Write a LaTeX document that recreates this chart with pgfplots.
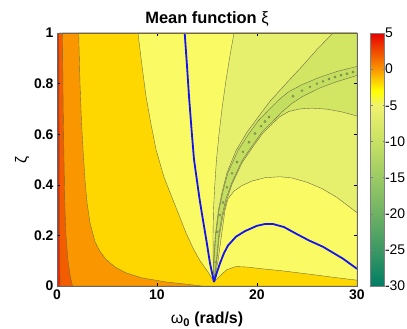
\documentclass[border=0pt]{standalone}
\usepackage{fontspec}
\setmainfont{Liberation Sans}
\usepackage{pgfplots}
\pgfplotsset{compat=1.18}

\definecolor{cDR}{RGB}{228,40,10}
\definecolor{cRO}{RGB}{244,92,0}
\definecolor{cOR}{RGB}{250,150,0}
\definecolor{cGD}{RGB}{255,215,0}
\definecolor{cPY}{RGB}{250,250,100}
\definecolor{cLG}{RGB}{230,240,108}
\definecolor{cGR}{RGB}{210,230,100}
\definecolor{cBD}{RGB}{196,222,96}
\definecolor{cOV}{RGB}{175,205,95}
\definecolor{cLN}{RGB}{110,110,70}
\definecolor{cBL}{RGB}{20,20,240}

\begin{document}
\begin{tikzpicture}
\path[use as bounding box] (-57bp,-43bp) rectangle (350bp,286bp);
\begin{axis}[
  at={(0,0)}, anchor=south west,
  scale only axis, width=300bp, height=253bp,
  xmin=0, xmax=30, ymin=0, ymax=1,
  xtick={0,10,20,30}, ytick={0,0.2,0.4,0.6,0.8,1},
  /pgf/number format/assume math mode=true,
  ticklabel style={font=\fontsize{14}{16}\selectfont\bfseries},
  tick style={black, line width=0.4bp}, major tick length=3bp,
  axis line style={black!60, line width=0.4bp},
  axis on top,
  title={Mean function {\mdseries ξ}},
  title style={font=\fontsize{16.5}{19}\selectfont\bfseries, yshift=-3bp},
  xlabel={{\mdseries ω}\textsubscript{0} (rad/s)},
  xlabel style={font=\fontsize{16}{18}\selectfont\bfseries, yshift=-6bp},
  ylabel={ζ},
  ylabel style={font=\fontsize{16}{18}\selectfont, yshift=-2bp},
  colormap={mymap}{rgb255(0bp)=(0,125,100) rgb255(5bp)=(60,152,100) rgb255(10bp)=(110,178,100) rgb255(15bp)=(155,202,100) rgb255(20bp)=(200,225,100) rgb255(25bp)=(240,242,110) rgb255(27bp)=(255,255,0) rgb255(30bp)=(250,150,0) rgb255(35bp)=(230,0,0)},
  colorbar, point meta min=-30, point meta max=5,
  colorbar style={
    at={(parent axis.north east)}, anchor=north west, xshift=5bp,
    scale only axis, width=14bp, height=253bp,
    ytick={-30,-25,-20,-15,-10,-5,0,5},
    /pgf/number format/assume math mode=true,
    yticklabel style={font=\fontsize{14}{16}\selectfont, xshift=-3bp},
    axis line style={black!50, line width=0.4bp},
    tick style={black!50}, major tick length=2bp,
  },
]
% background: deep red
\addplot[fill=cDR, draw=none] coordinates {(0,0)(30,0)(30,1)(0,1)} -- cycle;
% red-orange
\addplot[fill=cRO, draw=cLN, line width=0.4bp] coordinates {(0.2,1)(0.22,0.7)(0.25,0.4)(0.27,0.2)(0.3,0.05)(0.32,0)(30,0)(30,1)} -- cycle;
% orange
\addplot[fill=cOR, draw=cLN, line width=0.4bp] coordinates {(0.54,1)(0.62,0.7)(0.7,0.5)(0.77,0.34)(0.9,0.2)(1.1,0.1)(1.3,0.045)(1.55,0)(30,0)(30,1)} -- cycle;
% gold
\addplot[fill=cGD, draw=cLN, line width=0.4bp] coordinates {(2.17,1)(2.3,0.8)(2.45,0.65)(2.6,0.54)(2.8,0.42)(3.0,0.33)(3.3,0.25)(3.8,0.175)(4.3,0.137)(4.9,0.105)(5.8,0.075)(6.9,0.052)(8.5,0.032)(10.9,0.016)(13,0.007)(14.5,0)(30,0)(30,1)} -- cycle;
% pale yellow
\addplot[fill=cPY, draw=cLN, line width=0.4bp] coordinates {(8.1,1)(8.5,0.87)(8.9,0.75)(9.4,0.64)(9.9,0.54)(10.7,0.43)(11.6,0.34)(12.3,0.27)(12.9,0.21)(13.6,0.15)(14.3,0.10)(15.1,0.055)(15.7,0.016)(16.3,0.04)(17.0,0.065)(17.9,0.077)(19.0,0.075)(20.5,0.068)(22.3,0.061)(25,0.048)(27.5,0.035)(30,0.023)(30,1)} -- cycle;
% light yellow-green
\addplot[fill=cLG, draw=cLN, line width=0.4bp] coordinates {(17.7,1)(17.25,0.9)(16.85,0.8)(16.5,0.7)(16.2,0.6)(15.95,0.5)(15.78,0.4)(15.65,0.3)(15.6,0.2)(15.62,0.1)(15.7,0.016)(16.1,0.1)(16.45,0.2)(16.8,0.3)(17.1,0.345)(17.7,0.375)(18.5,0.397)(19.5,0.415)(20.8,0.428)(22.3,0.432)(23.5,0.427)(25,0.41)(26.5,0.385)(28,0.35)(30,0.29)(30,1)} -- cycle;
% greener
\addplot[fill=cGR, draw=cLN, line width=0.4bp] coordinates {(27.6,1)(26,0.935)(24.5,0.868)(22.9,0.80)(21.3,0.73)(20.2,0.672)(19.0,0.608)(17.9,0.535)(17.0,0.448)(16.53,0.375)(16.14,0.3)(15.83,0.2)(15.66,0.1)(15.7,0.016)(15.98,0.1)(16.21,0.19)(16.55,0.27)(16.95,0.337)(17.5,0.402)(18.5,0.487)(19.5,0.545)(20.5,0.6)(21.5,0.64)(22.3,0.67)(23.2,0.69)(24.3,0.70)(25.5,0.703)(27,0.699)(28.5,0.688)(30,0.672)(30,1)} -- cycle;
% band
\addplot[fill=cBD, draw=cLN, line width=0.4bp] coordinates {(15.7,0.016)(15.7,0.1)(15.88,0.2)(16.2,0.3)(16.6,0.375)(17.1,0.448)(18.1,0.535)(19.1,0.597)(20.1,0.652)(21.1,0.693)(22.1,0.733)(23.1,0.766)(24.4,0.794)(26.2,0.824)(28,0.848)(30,0.868)(30,0.832)(28,0.808)(26.3,0.783)(24.6,0.75)(23.5,0.722)(22.5,0.688)(21.5,0.648)(20.5,0.608)(19.5,0.553)(18.5,0.495)(17.5,0.41)(16.9,0.345)(16.5,0.278)(16.16,0.195)(15.94,0.1)} -- cycle;
% small islands inside the band
\addplot[only marks, mark=*, mark size=1.1bp, mark options={fill=cOV, draw=cLN, line width=0.3bp}] coordinates {(15.84,0.095)(16.04,0.214)(16.3,0.28)(16.6,0.33)(17.0,0.39)(17.5,0.445)(18.0,0.49)(18.6,0.53)(19.2,0.568)(19.8,0.603)(20.4,0.632)(20.8,0.65)(21.2,0.668)(23.6,0.75)(24.5,0.772)(25.3,0.787)(26.0,0.80)(26.6,0.809)(27.2,0.818)(27.8,0.826)(28.4,0.833)(29.0,0.839)(29.6,0.846)};
% blue curves
\addplot[cBL, line width=1.8bp] coordinates {(12.77,1)(13.0,0.87)(13.2,0.75)(13.45,0.62)(13.7,0.5)(14.27,0.34)(14.6,0.26)(14.94,0.18)(15.3,0.09)(15.7,0.016)};
\addplot[cBL, line width=1.8bp] coordinates {(15.7,0.016)(16.0,0.055)(16.3,0.09)(16.7,0.13)(17.1,0.16)(17.9,0.195)(18.8,0.217)(20.0,0.238)(20.8,0.245)(21.6,0.245)(22.7,0.233)(23.9,0.207)(25.2,0.18)(26.6,0.155)(28.6,0.108)(30,0.068)};
\end{axis}
\end{tikzpicture}
\end{document}
